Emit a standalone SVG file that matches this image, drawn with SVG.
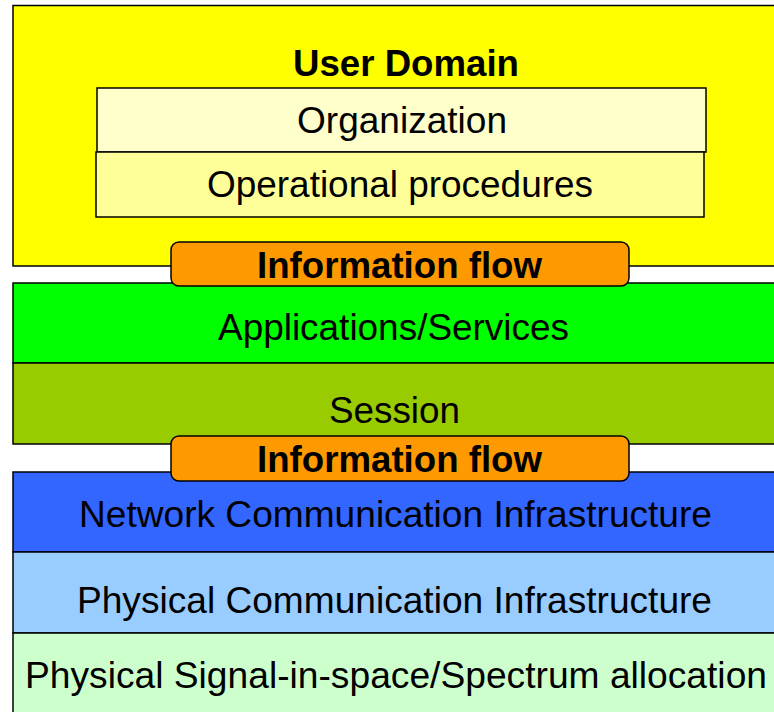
<svg xmlns="http://www.w3.org/2000/svg" width="774" height="712" viewBox="0 0 774 712">
  <style>
    .box { stroke: #000; stroke-width: 1.5; }
    .flow { fill: #FF9900; stroke: #000; stroke-width: 1.5; }
    text { font-family: "Liberation Sans", Arial, sans-serif; fill: #000; }
    .lbl { font-size: 37px; }
    .sm { font-size: 36px; }
    .b { font-weight: bold; }
  </style>
  <rect width="774" height="712" fill="#FFFFFF"/>

  <!-- User domain layer -->
  <g id="user-domain">
    <rect class="box" x="13" y="5.5" width="800" height="260.5" fill="#FFFF00"/>
    <text class="b" x="293" y="76" font-size="36" textLength="226" lengthAdjust="spacingAndGlyphs">User Domain</text>
  </g>
  <g id="organization">
    <rect class="box" x="97" y="88" width="609" height="64" fill="#FFFFCC"/>
    <text class="sm" x="297" y="133" textLength="210" lengthAdjust="spacingAndGlyphs">Organization</text>
  </g>
  <g id="operational-procedures">
    <rect class="box" x="96" y="152" width="608" height="65" fill="#FFFF99"/>
    <text class="sm" x="207" y="197" textLength="386" lengthAdjust="spacingAndGlyphs">Operational procedures</text>
  </g>

  <!-- Application layers -->
  <g id="applications-services">
    <rect class="box" x="13" y="283" width="800" height="80" fill="#00FF00"/>
    <text class="lbl" x="218" y="340" textLength="351" lengthAdjust="spacingAndGlyphs">Applications/Services</text>
  </g>
  <g id="session">
    <rect class="box" x="13" y="363" width="800" height="81" fill="#99CC00"/>
    <text class="lbl" x="329" y="423" textLength="131" lengthAdjust="spacingAndGlyphs">Session</text>
  </g>

  <!-- Information flow between user domain and applications -->
  <g id="information-flow-upper">
    <rect class="flow" x="171" y="242" width="458" height="44" rx="8" ry="8"/>
    <text class="lbl b" x="257" y="278" textLength="285" lengthAdjust="spacingAndGlyphs">Information flow</text>
  </g>

  <!-- Infrastructure layers -->
  <g id="network-infrastructure">
    <rect class="box" x="13" y="472" width="800" height="80" fill="#3366FF"/>
    <text class="lbl" x="79" y="527" textLength="633" lengthAdjust="spacingAndGlyphs">Network Communication Infrastructure</text>
  </g>
  <g id="physical-infrastructure">
    <rect class="box" x="13" y="552" width="800" height="81" fill="#99CCFF"/>
    <text class="lbl" x="77" y="613" textLength="635" lengthAdjust="spacingAndGlyphs">Physical Communication Infrastructure</text>
  </g>
  <g id="spectrum-allocation">
    <rect class="box" x="13" y="633" width="800" height="100" fill="#CCFFCC"/>
    <text class="lbl" x="25" y="688" textLength="742" lengthAdjust="spacingAndGlyphs">Physical Signal-in-space/Spectrum allocation</text>
  </g>

  <!-- Information flow between applications and infrastructure -->
  <g id="information-flow-lower">
    <rect class="flow" x="171" y="436" width="458" height="45" rx="8" ry="8"/>
    <text class="lbl b" x="257" y="472" textLength="285" lengthAdjust="spacingAndGlyphs">Information flow</text>
  </g>
</svg>
